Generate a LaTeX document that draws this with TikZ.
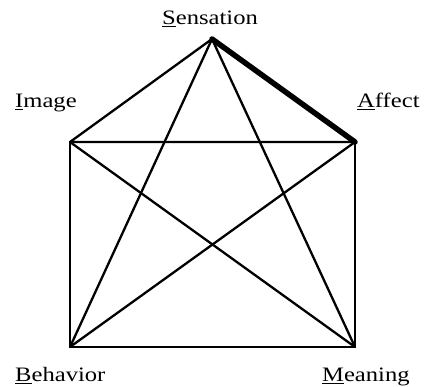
\documentclass[tikz,border=0pt]{standalone}
\usepackage{fontspec}
\setmainfont[FakeStretch=1.2]{Liberation Serif}
\begin{document}
\begin{tikzpicture}[x=1pt,y=-1pt,
  edge/.style={line width=2.3pt, line cap=round, line join=round},
  heavy/.style={line width=5.5pt, line cap=round},
  lbl/.style={anchor=base west, inner sep=0pt, font=\fontsize{20.5}{24}\selectfont}]
\useasboundingbox (0,0) rectangle (424,387);
\coordinate (S) at (212,39);
\coordinate (I) at (70,142);
\coordinate (A) at (355,142);
\coordinate (B) at (70,347);
\coordinate (M) at (355,347);
\node[lbl] (ls) at (162,25) {\underline{S}ensation};
\node[lbl] (li) at (15,108) {\underline{I}mage};
\node[lbl] (la) at (357,108) {\underline{A}ffect};
\node[lbl] (lb) at (15,382) {\underline{B}ehavior};
\node[lbl] (lm) at (322,382) {\underline{M}eaning};
\draw[edge] (S) -- (I) -- (A);
\draw[edge] (I) -- (B) -- (M) -- (A);
\draw[edge] (S) -- (B);
\draw[edge] (S) -- (M);
\draw[edge] (I) -- (M);
\draw[edge] (A) -- (B);
\draw[heavy] (S) -- (A);
\end{tikzpicture}
\end{document}
